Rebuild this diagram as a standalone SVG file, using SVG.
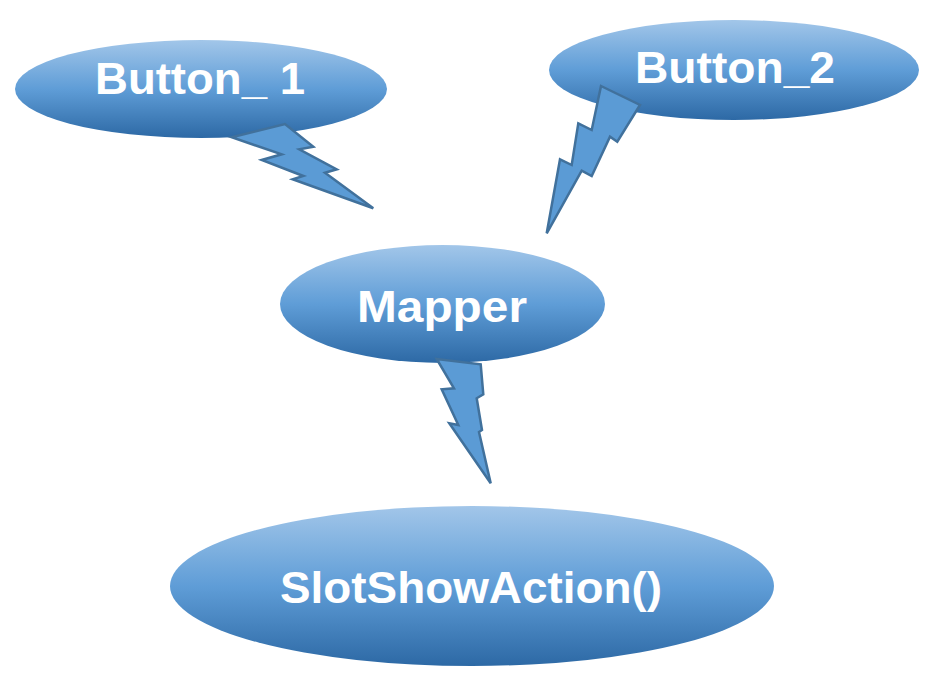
<svg xmlns="http://www.w3.org/2000/svg" width="929" height="679" viewBox="0 0 929 679">
  <defs>
    <linearGradient id="g" x1="0" y1="0" x2="0" y2="1">
      <stop offset="0" stop-color="#a2c6e9"/>
      <stop offset="0.5" stop-color="#5f9dd7"/>
      <stop offset="1" stop-color="#2d69a5"/>
    </linearGradient>
  </defs>
  <style>
    .node { fill: url(#g); }
    .lbl { font-family: "Liberation Sans", Arial, sans-serif; font-weight: bold; font-size: 44px; fill: #ffffff; text-anchor: middle; }
    .bolt { fill: #5b9bd5; stroke: #41719c; stroke-width: 2.5; stroke-linejoin: miter; }
  </style>
  <rect width="929" height="679" fill="#ffffff"/>
  <g id="button1">
    <ellipse class="node" cx="201" cy="89" rx="186" ry="49"/>
    <text class="lbl" x="200" y="94" textLength="210" lengthAdjust="spacingAndGlyphs">Button_ 1</text>
  </g>
  <g id="button2">
    <ellipse class="node" cx="734" cy="70" rx="185" ry="50"/>
    <text class="lbl" x="735" y="83" textLength="200" lengthAdjust="spacingAndGlyphs">Button_2</text>
  </g>
  <g id="mapper">
    <ellipse class="node" cx="442.5" cy="304" rx="162.5" ry="59"/>
    <text class="lbl" x="442" y="322" textLength="170" lengthAdjust="spacingAndGlyphs">Mapper</text>
  </g>
  <g id="slot">
    <ellipse class="node" cx="472" cy="586" rx="302" ry="80"/>
    <text class="lbl" x="471" y="603" textLength="382" lengthAdjust="spacingAndGlyphs">SlotShowAction()</text>
  </g>
  <g id="connectors">
    <polygon class="bolt" points="231.7,137.3 285,124 313.3,146.7 299.3,149.3 336.7,169.3 325,172.7 373.3,208.3 292.7,179.3 303.3,176 261.7,160 281.7,154.3"/>
    <polygon class="bolt" points="601,86 640,105 617.3,141.7 610,136.7 591.7,176 581.7,170.7 546.7,233.3 560,159.3 571.7,165 578.3,123.3 591.7,130"/>
    <polygon class="bolt" points="436.7,359 480.7,364.3 483.3,394.3 476.7,398.3 482,430 479,432 490.7,483.3 449.3,423.3 458.3,425 441.7,389.3 454,388.3"/>
  </g>
</svg>
